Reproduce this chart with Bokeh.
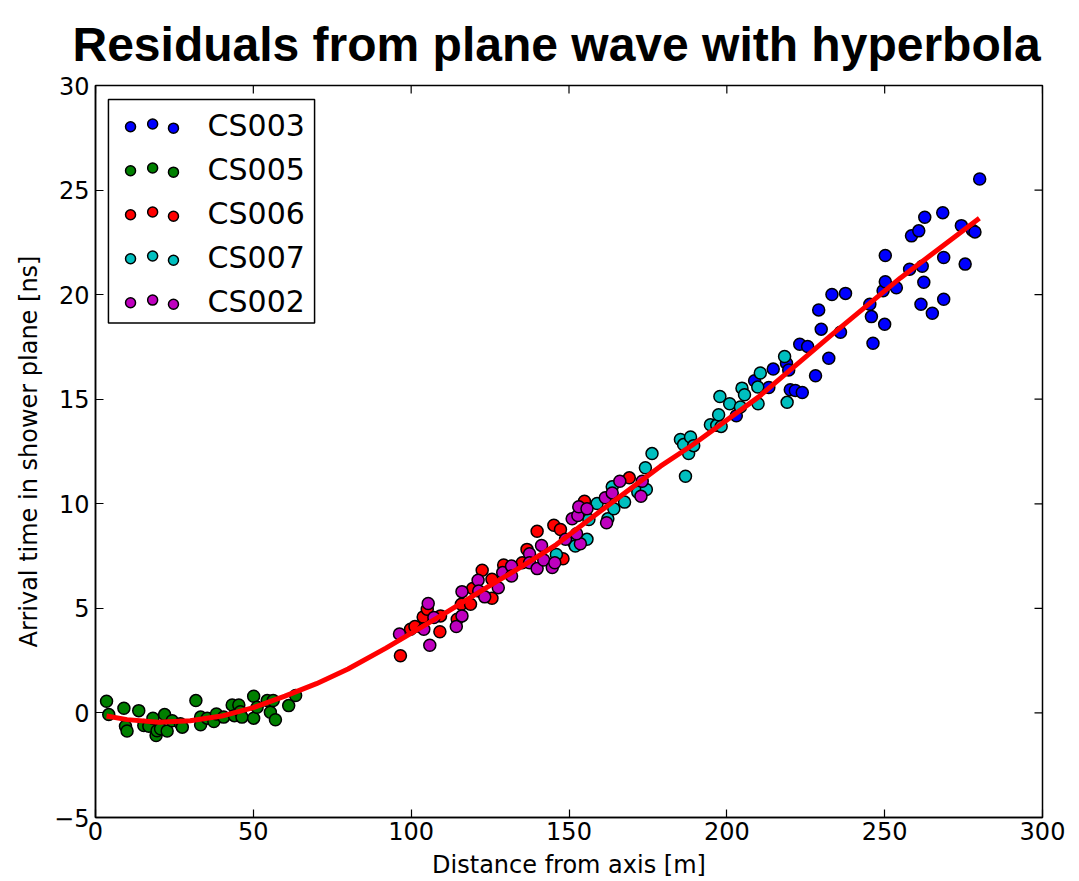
from bokeh.plotting import figure
from bokeh.models import Range1d, FixedTicker
from bokeh.core.properties import value
from bokeh.embed import file_html
from bokeh.resources import INLINE

# ---------------- data ----------------
title_text = "Residuals from plane wave with hyperbola"
stations = ["CS003", "CS005", "CS006", "CS007", "CS002"]
colors = ["#0000ff", "#008000", "#ff0000", "#00bfbf", "#bf00bf"]

cs003_x = [203.0, 208.8, 213.3, 214.7, 218.9, 219.6, 220.1, 221.7, 223.9, 223.1, 225.6, 228.1,
           229.1, 229.9, 232.3, 236.0, 233.3, 237.6, 246.3, 245.8, 245.3, 250.0, 249.5, 250.2,
           250.2, 253.7, 257.9, 261.9, 262.4, 261.5, 265.1, 268.7, 268.7, 258.5, 260.8, 262.7,
           268.4, 274.3, 275.5, 277.8, 278.6, 280.1]
cs003_y = [14.21, 15.88, 15.56, 16.44, 16.72, 16.4, 15.45, 15.42, 15.32, 17.63, 17.52, 16.12,
           19.27, 18.35, 16.96, 18.2, 20.01, 20.06, 17.68, 18.95, 19.54, 18.58, 20.19, 20.62,
           21.87, 20.33, 21.21, 21.36, 20.59, 19.54, 19.11, 19.78, 21.78, 22.81, 23.05, 23.7,
           23.92, 23.3, 21.46, 23.08, 23.0, 25.53]

cs005_x = [3.5, 4.2, 9.0, 9.5, 10.0, 13.7, 15.3, 16.9, 18.2, 19.2, 19.5, 20.6, 21.9, 22.7,
           24.3, 26.9, 27.5, 31.8, 33.3, 33.3, 35.4, 37.5, 38.3, 40.6, 43.3, 44.0, 45.4, 45.9,
           46.4, 50.1, 50.1, 51.2, 54.4, 55.4, 56.3, 57.0, 61.2, 63.4]
cs005_y = [0.56, -0.08, 0.22, -0.64, -0.86, 0.11, -0.6, -0.64, -0.25, -1.08, -0.85, -0.76,
           -0.08, -0.86, -0.37, -0.52, -0.68, 0.59, -0.2, -0.57, -0.25, -0.41, -0.05, -0.2,
           0.38, -0.13, 0.38, 0.06, -0.2, 0.8, -0.25, 0.27, 0.59, 0.03, 0.59, -0.33, 0.35, 0.83]

cs006_x = [96.6, 99.8, 101.2, 103.8, 105.1, 109.3, 109.1, 114.6, 115.9, 118.8, 119.5, 122.5,
           125.6, 125.6, 129.3, 135.2, 136.7, 139.9, 145.2, 147.3, 148.1, 154.9, 169.1]
cs006_y = [2.73, 4.0, 4.13, 4.59, 4.96, 4.64, 3.88, 4.48, 5.2, 5.2, 5.95, 6.82,
           5.48, 6.39, 7.07, 7.18, 7.82, 8.69, 8.97, 8.77, 7.37, 10.12, 11.24]

cs007_x = [146.0, 151.5, 152.0, 155.7, 156.3, 158.9, 162.3, 164.2, 163.7, 167.6, 171.8, 174.5,
           174.2, 176.3, 185.3, 186.3, 186.9, 187.9, 188.5, 189.5, 194.8, 196.8, 197.8, 197.4,
           198.2, 200.9, 204.8, 205.6, 204.3, 209.9, 210.6, 209.8, 218.3, 219.1]
cs007_y = [7.58, 8.14, 7.98, 8.3, 9.25, 10.01, 9.28, 9.76, 10.81, 10.08, 10.55, 10.68,
           11.72, 12.4, 13.07, 12.83, 11.32, 12.4, 13.19, 12.78, 13.78, 13.75, 15.13, 14.26,
           13.7, 14.78, 15.53, 15.21, 14.63, 14.78, 16.25, 15.58, 17.04, 14.85]

cs002_x = [96.3, 104.0, 105.4, 105.9, 107.2, 114.3, 116.1, 116.1, 121.2, 121.4, 123.3, 127.6,
           129.0, 131.8, 131.8, 137.5, 137.5, 139.9, 141.3, 142.0, 144.7, 145.5, 148.9, 153.6,
           152.4, 151.0, 152.8, 153.1, 155.7, 161.5, 161.9, 163.7, 166.1, 173.2, 172.8]
cs002_y = [3.77, 4.0, 5.23, 3.24, 4.56, 4.13, 4.64, 5.8, 6.34, 5.83, 5.55, 5.99,
           6.71, 7.02, 6.55, 7.61, 7.18, 6.9, 8.01, 7.31, 6.95, 7.18, 8.3, 8.09,
           8.57, 9.28, 9.44, 9.86, 9.76, 10.29, 9.09, 10.52, 11.08, 11.08, 10.36]

fit_x = [3.5, 10, 20, 30, 40, 50, 60, 70, 80, 92, 110, 124, 135, 146, 160, 179, 189, 210, 233, 255, 280]
fit_y = [-0.15, -0.32, -0.45, -0.37, -0.15, 0.25, 0.8, 1.4, 2.1, 3.1, 4.7, 6.0, 7.0, 8.05, 9.65,
         11.8, 12.8, 15.1, 18.05, 20.8, 23.65]

x_ticks = [0, 50, 100, 150, 200, 250, 300]
y_ticks = [-5, 0, 5, 10, 15, 20, 25, 30]

series_x = [cs003_x, cs005_x, cs006_x, cs007_x, cs002_x]
series_y = [cs003_y, cs005_y, cs006_y, cs007_y, cs002_y]

# ---------------- figure ----------------
X0, X1, Y0, Y1 = 0, 300, -5, 30
FRAME_W, FRAME_H = 947.0, 734.0
p = figure(width=1079, height=881, x_range=Range1d(X0, X1), y_range=Range1d(Y0, Y1),
           output_backend="svg", toolbar_location=None,
           min_border_left=95, min_border_right=37, min_border_top=85, min_border_bottom=62)
p.background_fill_color = "white"
p.border_fill_color = "white"
p.outline_line_color = "black"
p.outline_line_width = 1.5
p.xgrid.visible = False
p.ygrid.visible = False

p.title.text = title_text
p.title.text_font = "Liberation Sans"
p.title.text_font_style = "bold"
p.title.text_font_size = "48px"
p.title.align = "left"
p.title.offset = -23
p.title.text_color = "black"
p.title.text_line_height = 0.7
p.title.standoff = 30

def style_axis(ax):
    ax.major_tick_in = 8
    ax.major_tick_out = 0
    ax.minor_tick_in = 0
    ax.minor_tick_out = 0
    ax.axis_line_color = "black"
    ax.axis_line_width = 1.5
    ax.major_tick_line_color = "black"
    ax.major_tick_line_width = 1.2
    ax.major_label_text_font = "DejaVu Sans"
    ax.major_label_text_font_size = "24px"
    ax.major_label_text_color = "black"
    ax.axis_label_text_font = "DejaVu Sans"
    ax.axis_label_text_font_size = "24px"
    ax.axis_label_text_font_style = "normal"
    ax.axis_label_text_color = "black"

xa = p.xaxis[0]
ya = p.yaxis[0]
xa.ticker = FixedTicker(ticks=x_ticks)
ya.ticker = FixedTicker(ticks=y_ticks)
ya.major_label_overrides = {-5: "\u22125"}
style_axis(xa)
style_axis(ya)
xa.axis_label = "Distance from axis [m]"
ya.axis_label = "Arrival time in shower plane [ns]"
xa.major_label_standoff = 4
xa.axis_label_standoff = 8
ya.major_label_standoff = 6
ya.axis_label_standoff = 8

# inward tick marks on the top and right frame edges (matplotlib classic style)
px_y = (Y1 - Y0) / FRAME_H
px_x = (X1 - X0) / FRAME_W
tick_len_y = 8 * px_y
tick_len_x = 8 * px_x
p.segment(x0=x_ticks, y0=[Y1] * len(x_ticks), x1=x_ticks, y1=[Y1 - tick_len_y] * len(x_ticks),
          line_color="black", line_width=1.2)
p.segment(x0=[X1] * len(y_ticks), y0=y_ticks, x1=[X1 - tick_len_x] * len(y_ticks), y1=y_ticks,
          line_color="black", line_width=1.2)

# data points
for xs, ys, c in zip(series_x, series_y, colors):
    p.scatter(xs, ys, size=12, fill_color=c, line_color="black", line_width=1.5)

# fitted curve
p.line(fit_x, fit_y, line_color="#ff0000", line_width=5)

# legend (matplotlib style: three markers per entry)
leg_left, leg_right, leg_top, leg_bottom = 4.1, 69.4, 29.33, 18.65
p.quad(left=[leg_left], right=[leg_right], top=[leg_top], bottom=[leg_bottom],
       fill_color="white", line_color="black", line_width=1.5)
row0, row_step = 28.03, 2.105
dot_x = [11.1, 18.1, 24.7]
dot_dy = [0.0, 0.13, -0.07]
for i, (name, c) in enumerate(zip(stations, colors)):
    ry = row0 - i * row_step
    p.scatter(dot_x, [ry + d for d in dot_dy], size=10, fill_color=c,
              line_color="black", line_width=1.5)
    p.text(x=[35.5], y=[ry + 0.08], text=[name], text_font=value("DejaVu Sans"),
           text_font_size="30px", text_baseline="middle", text_align="left", text_color="black")

open("out.html", "w").write(file_html(p, INLINE))
